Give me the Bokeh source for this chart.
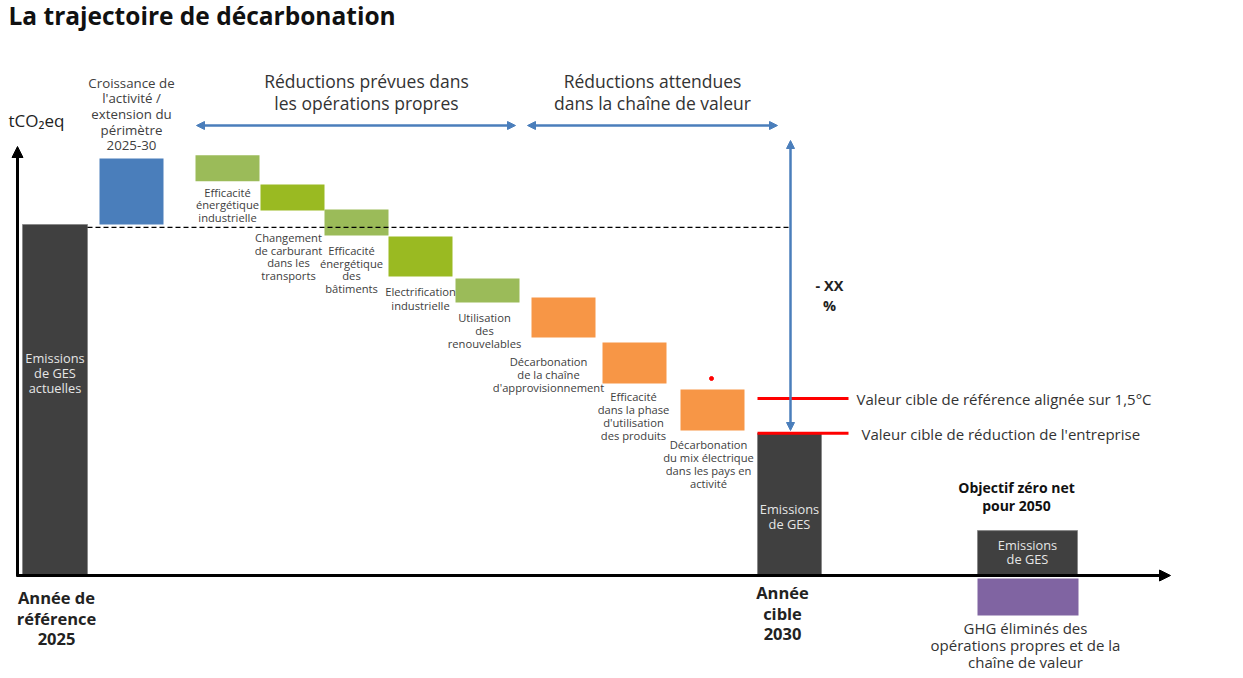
from bokeh.plotting import figure
from bokeh.models import ColumnDataSource, Range1d, Arrow, NormalHead
from bokeh.core.properties import value
from bokeh.embed import file_html
from bokeh.resources import INLINE

# ---------------- data (arbitrary tCO2eq units, base year = 100) ----------------
categories = [
    "Emissions de GES actuelles",
    "Croissance de l'activité / extension du périmètre 2025-30",
    "Efficacité énergétique industrielle",
    "Changement de carburant dans les transports",
    "Efficacité énergétique des bâtiments",
    "Electrification industrielle",
    "Utilisation des renouvelables",
    "Décarbonation de la chaîne d'approvisionnement",
    "Efficacité dans la phase d'utilisation des produits",
    "Décarbonation du mix électrique dans les pays en activité",
    "Emissions de GES 2030",
    "Emissions de GES 2050",
    "GHG éliminés",
]
bar_bottom = [0, 100, 112.3, 104.0, 96.9, 85.2, 77.8, 67.8, 54.7, 41.3, 0, 0, -11.4]
bar_top = [100, 118.8, 119.7, 111.4, 104.3, 96.6, 84.6, 79.2, 66.4, 53.0, 40.5, 12.8, -0.85]
target_15C = 50.4
target_company = 40.5
baseline_level = 99.2

# ---------------- layout ----------------
W, H = 1235, 672
PX = 3.51          # pixels per unit
AXIS_PY = 575      # pixel row of the zero line


def Y(py):
    return (AXIS_PY - py) / PX


bar_left = [22, 99, 195, 260, 324, 388, 455, 531, 602, 680, 757, 977, 977]
bar_right = [87, 163, 259, 324, 388, 452, 519, 595, 666, 744, 821, 1077, 1078]
DARK = "#404040"
BLUE = "#4a7ebb"
GREEN_A = "#9bbb59"
GREEN_B = "#9aba22"
ORANGE = "#f79646"
PURPLE = "#8064a2"
bar_color = [DARK, BLUE, GREEN_A, GREEN_B, GREEN_A, GREEN_B, GREEN_A,
             ORANGE, ORANGE, ORANGE, DARK, DARK, PURPLE]
bar_line = ["#8a8a8a" if c == DARK else None for c in bar_color]

p = figure(width=W, height=H,
           x_range=Range1d(0, W), y_range=Range1d(Y(H), Y(0)),
           output_backend="svg", toolbar_location=None, min_border=0)
p.axis.visible = False
p.grid.visible = False
p.outline_line_color = None
p.background_fill_color = "white"
p.border_fill_color = "white"

src = ColumnDataSource(dict(left=bar_left, right=bar_right, top=bar_top,
                            bottom=bar_bottom, color=bar_color, lc=bar_line,
                            name=categories))
p.quad(left="left", right="right", top="top", bottom="bottom",
       fill_color="color", line_color="lc", line_width=1, source=src)

# dashed reference level
p.line([87, 790], [baseline_level, baseline_level], line_color="black",
       line_width=1.3, line_dash="5 3")

# red targets
p.line([757, 848], [target_15C, target_15C], line_color="#ff0000", line_width=3)
p.line([757, 848], [target_company, target_company], line_color="#ff0000", line_width=3)
p.scatter([711], [Y(378)], size=4, color="#ff0000")

# axes arrows
p.add_layout(Arrow(end=NormalHead(size=11, fill_color="black", line_color="black"),
                   x_start=17, y_start=Y(576), x_end=17, y_end=Y(146),
                   line_width=3, line_color="black"))
p.add_layout(Arrow(end=NormalHead(size=11, fill_color="black", line_color="black"),
                   x_start=16, y_start=0, x_end=1170, y_end=0,
                   line_width=3, line_color="black"))


def blue_arrow(x0, y0, x1, y1):
    p.add_layout(Arrow(start=NormalHead(size=8, fill_color=BLUE, line_color=BLUE),
                       end=NormalHead(size=8, fill_color=BLUE, line_color=BLUE),
                       x_start=x0, y_start=y0, x_end=x1, y_end=y1,
                       line_width=2.5, line_color=BLUE))


blue_arrow(196, Y(125), 515, Y(125))
blue_arrow(527, Y(125), 777, Y(125))
blue_arrow(790, Y(140), 790, Y(430))

# ---------------- texts ----------------
T = dict(x=[], y=[], text=[], size=[], color=[], style=[], align=[])


def label(lines, x, py, size, color="#404040", bold=False, spacing=None, align="center"):
    if isinstance(lines, str):
        lines = [lines]
    sp = spacing if spacing is not None else size * 1.3
    for i, ln in enumerate(lines):
        T["x"].append(x)
        T["y"].append(Y(py + i * sp))
        T["text"].append(ln)
        T["size"].append(f"{size}px")
        T["color"].append(color)
        T["style"].append("bold" if bold else "normal")
        T["align"].append(align)


label("La trajectoire de décarbonation", 8, 15, 24.5, color="#111111", bold=True, align="left")
label("tCO₂eq", 8, 120, 17, color="#222222", align="left")
label(["Croissance de", "l'activité /", "extension du", "périmètre", "2025-30"],
      131, 82, 13.3, spacing=15.7)
label(["Réductions prévues dans", "les opérations propres"], 366, 80, 17.5, color="#333333", spacing=22)
label(["Réductions attendues", "dans la chaîne de valeur"], 652, 80, 17.5, color="#333333", spacing=22)

SM = 11.2
label(["Efficacité", "énergétique", "industrielle"], 227, 192, SM, spacing=12.3)
label(["Changement", "de carburant", "dans les", "transports"], 288, 237, SM, spacing=12.6)
label(["Efficacité", "énergétique", "des", "bâtiments"], 351, 250, SM, spacing=12.6)
label(["Electrification", "industrielle"], 420, 291, SM, spacing=13.5)
label(["Utilisation", "des", "renouvelables"], 484, 317, SM, spacing=13)
label(["Décarbonation", "de la chaîne", "d'approvisionnement"], 548, 361, SM, spacing=13)
label(["Efficacité", "dans la phase", "d'utilisation", "des produits"], 633, 396, SM, spacing=13)
label(["Décarbonation", "du mix électrique", "dans les pays en", "activité"], 708, 444, SM, spacing=13)

label(["Emissions", "de GES", "actuelles"], 54.5, 357, 12.8, color="#e6e6e6", spacing=15)
label(["Emissions", "de GES"], 789, 508, 12.8, color="#e6e6e6", spacing=15)
label(["Emissions", "de GES"], 1027, 544, 12.8, color="#e6e6e6", spacing=14.5)

label(["- XX", "%"], 829, 285, 14.5, color="#222222", bold=True, spacing=20)
label("Valeur cible de référence alignée sur 1,5°C", 856, 398, 15, color="#333333", align="left")
label("Valeur cible de réduction de l'entreprise", 861, 433, 15, color="#333333", align="left")

label(["Année de", "référence", "2025"], 56, 597, 16.5, color="#222222", bold=True, spacing=20.5)
label(["Année", "cible", "2030"], 782, 592, 16.5, color="#222222", bold=True, spacing=20.5)
label(["Objectif zéro net", "pour 2050"], 1016, 487, 14, color="#111111", bold=True, spacing=18)
label(["GHG éliminés des", "opérations propres et de la", "chaîne de valeur"], 1025, 627, 15,
      color="#333333", spacing=17)

tsrc = ColumnDataSource(T)
p.text(x="x", y="y", text="text", text_font_size="size", text_color="color",
       text_font_style="style", text_align="align", text_baseline="middle",
       text_font=value("Open Sans"), source=tsrc)

open("out.html", "w").write(file_html(p, INLINE))
